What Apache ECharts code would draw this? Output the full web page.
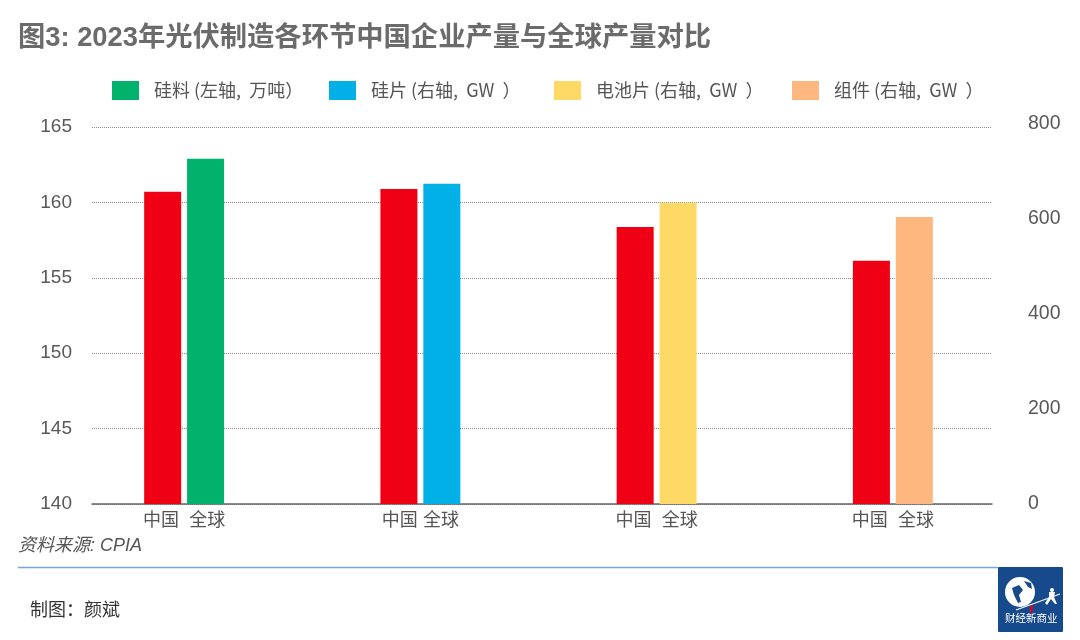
<!DOCTYPE html>
<html lang="zh">

<head>
    <meta charset="UTF-8">
    <title>图3</title>
    <script src="https://cdn.jsdelivr.net/npm/echarts@6/dist/echarts.min.js"></script>
    <style>
        body { margin: 0; padding: 0; background: #fff; }
        #chart { width: 1080px; height: 640px; }
    </style>
</head>

<body>
    <div id="chart"></div>
    <script>
        var titleText = '图3: 2023年光伏制造各环节中国企业产量与全球产量对比';
        var sourceText = '资料来源: CPIA';
        var authorText = '制图：颜斌';
        var logoText = '财经新商业';

        var groupLabels = ['中国  全球', '中国 全球', '中国  全球', '中国  全球'];
        var siliconName = '硅料 (左轴,  万吨）';
        var waferName = '硅片 (右轴,  GW  ）';
        var cellName = '电池片 (右轴,  GW  ）';
        var moduleName = '组件 (右轴,  GW  ）';

        // 左轴, 万吨
        var chinaLeft = [160.7, null, null, null];
        var siliconWorld = [162.9, null, null, null];
        // 右轴, GW
        var chinaRight = [null, 663, 583, 512];
        var waferWorld = [null, 674, null, null];
        var cellWorld = [null, null, 634, null];
        var moduleWorld = [null, null, null, 604];

        var leftTicks = { min: 140, max: 165, interval: 5 };
        var rightTicks = { min: 0, max: 800, interval: 200 };

        var FONT = '"Liberation Sans", "Noto Sans CJK SC", sans-serif';
        var CJK_FONT = '"Noto Sans CJK SC", sans-serif';
        var RED = '#f00014';
        var BAR_W = 37;

        var chart = echarts.init(document.getElementById('chart'));

        function legendAt(name, left) {
            return {
                data: [name], left: left, top: 76, itemWidth: 27, itemHeight: 19, icon: 'rect',
                selectedMode: false,
                textStyle: { fontFamily: CJK_FONT, fontSize: 18, color: '#555', padding: [0, 0, 0, 10] }
            };
        }

        function bar(name, data, xIdx, yIdx, color, stack) {
            return {
                name: name, type: 'bar', data: data, xAxisIndex: xIdx, yAxisIndex: yIdx,
                stack: stack, barWidth: BAR_W, barGap: '16%', z: 3,
                itemStyle: { color: color }
            };
        }

        chart.setOption({
            animation: false,
            title: {
                text: titleText, left: 13, top: 20,
                textStyle: { fontFamily: FONT, fontSize: 27.3, fontWeight: 'bold', color: '#6b6b6b' }
            },
            legend: [
                legendAt(siliconName, 107),
                legendAt(waferName, 324),
                legendAt(cellName, 549),
                legendAt(moduleName, 787)
            ],
            grid: [
                // 网格线和左轴
                { left: 92, right: 88, top: 127, bottom: 136 },
                // 左轴柱子
                { left: 66, right: 69, top: 127, bottom: 136 },
                // 右轴柱子
                { left: 66, right: 69, top: 124, bottom: 136 }
            ],
            xAxis: [
                {
                    gridIndex: 0, type: 'category', data: groupLabels,
                    axisLine: { lineStyle: { color: '#666', width: 1.5 } },
                    axisTick: { show: false }, axisLabel: { show: false }
                },
                {
                    gridIndex: 1, type: 'category', data: groupLabels,
                    axisLine: { show: false }, axisTick: { show: false },
                    axisLabel: { interval: 0, margin: 8, fontFamily: FONT, fontSize: 18, color: '#555' }
                },
                { gridIndex: 2, type: 'category', data: groupLabels, show: false }
            ],
            yAxis: [
                {
                    gridIndex: 0, type: 'value', min: leftTicks.min, max: leftTicks.max, interval: leftTicks.interval,
                    axisLine: { show: false }, axisTick: { show: false },
                    axisLabel: { margin: 20, fontFamily: FONT, fontSize: 19, color: '#595959' },
                    splitLine: { lineStyle: { color: '#8c8c8c', type: 'dotted', width: 1 } }
                },
                {
                    gridIndex: 1, type: 'value', min: leftTicks.min, max: leftTicks.max, interval: leftTicks.interval,
                    show: false
                },
                {
                    gridIndex: 2, type: 'value', position: 'right',
                    min: rightTicks.min, max: rightTicks.max, interval: rightTicks.interval,
                    axisLine: { show: false }, axisTick: { show: false }, splitLine: { show: false },
                    axisLabel: { margin: 17, fontFamily: FONT, fontSize: 19.5, color: '#595959' }
                }
            ],
            series: [
                bar('中国', chinaLeft, 1, 1, RED, 'china'),
                bar(siliconName, siliconWorld, 1, 1, '#00b26b', 'world'),
                bar('中国', chinaRight, 2, 2, RED, 'china'),
                bar(waferName, waferWorld, 2, 2, '#00b0e6', 'world'),
                bar(cellName, cellWorld, 2, 2, '#ffd966', 'world'),
                bar(moduleName, moduleWorld, 2, 2, '#fdb77f', 'world')
            ],
            graphic: [
                {
                    type: 'text', left: 18, top: 537,
                    style: { text: sourceText, fontFamily: FONT, fontSize: 18, fontStyle: 'italic', fill: '#555' }
                },
                {
                    type: 'line', shape: { x1: 18, y1: 567.5, x2: 998, y2: 567.5 },
                    style: { stroke: '#7aa5d8', lineWidth: 1.5 }
                },
                {
                    type: 'text', left: 30, top: 602,
                    style: { text: authorText, fontFamily: FONT, fontSize: 18, fill: '#333' }
                },
                // 右下角标志
                {
                    type: 'rect', shape: { x: 998, y: 567, width: 65, height: 65, r: 1 },
                    style: { fill: '#174a8c' }
                },
                {
                    type: 'circle', shape: { cx: 1020, cy: 592, r: 15 },
                    style: { fill: '#fff' }
                },
                {
                    type: 'polygon', shape: { points: [[1012, 588], [1019, 585], [1023, 590], [1019, 595], [1021, 602], [1018, 603], [1014, 595]] },
                    style: { fill: '#174a8c' }
                },
                {
                    type: 'polygon', shape: { points: [[1024, 581], [1031, 583], [1032, 589], [1028, 587]] },
                    style: { fill: '#174a8c' }
                },
                {
                    type: 'line', shape: { x1: 1016, y1: 610, x2: 1060, y2: 594 },
                    style: { stroke: '#fff', lineWidth: 1.2 }
                },
                {
                    type: 'polygon', shape: { points: [[1030, 606], [1033, 605], [1032, 613], [1030, 613]] },
                    style: { fill: '#e60012' }
                },
                {
                    type: 'circle', shape: { cx: 1052, cy: 590, r: 2 },
                    style: { fill: '#fff' }
                },
                {
                    type: 'polygon', shape: { points: [[1049, 592], [1055, 592], [1054, 597], [1057, 604], [1055, 604], [1051, 599], [1047, 605], [1045, 603], [1049, 597]] },
                    style: { fill: '#fff' }
                },
                {
                    type: 'text', left: 1005, top: 614,
                    style: { text: logoText, fontFamily: FONT, fontSize: 10.5, fill: '#fff' }
                }
            ]
        });
    </script>
</body>

</html>
